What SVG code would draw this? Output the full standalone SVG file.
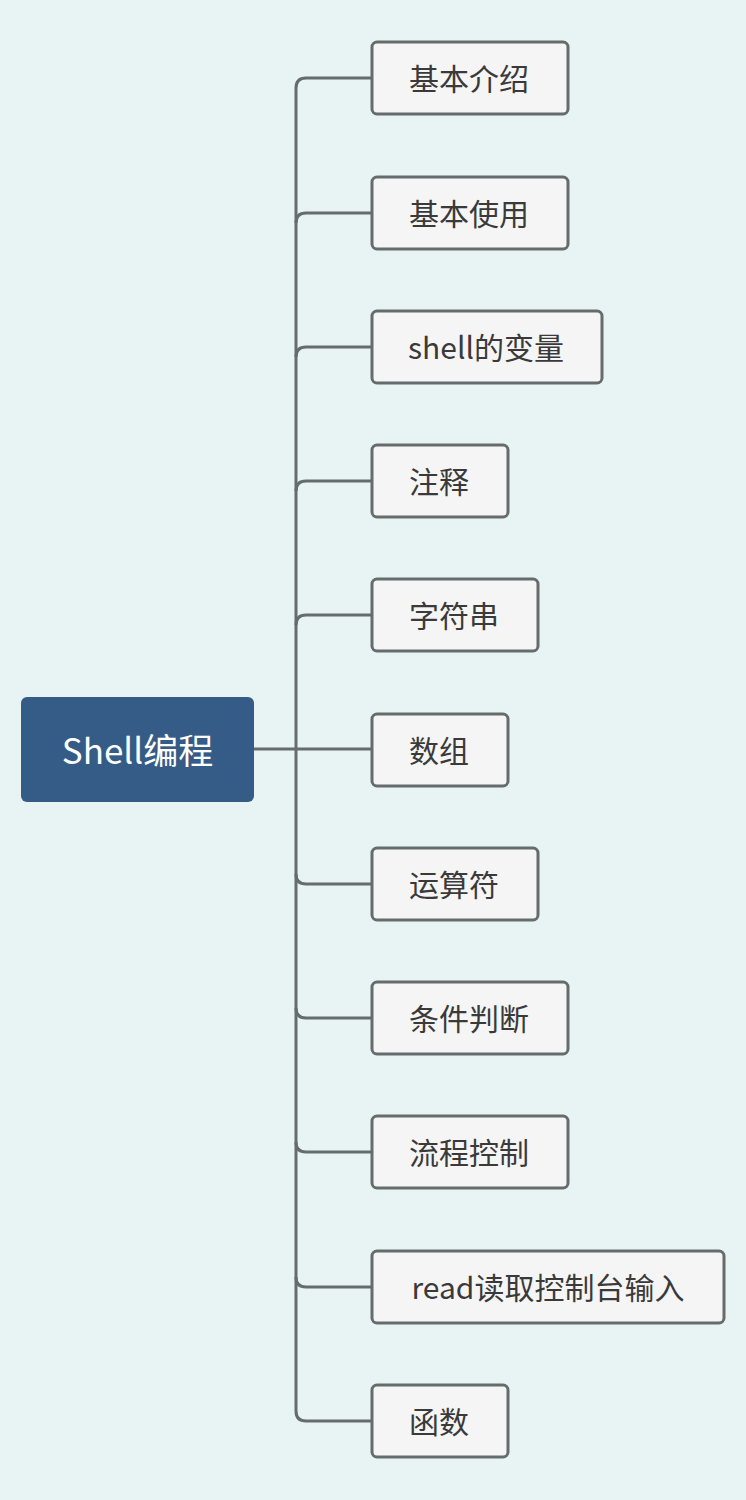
<svg xmlns="http://www.w3.org/2000/svg" width="746" height="1500" viewBox="0 0 746 1500">
<style>
.bg{fill:#e8f4f4}
.child rect{fill:#f5f5f5;stroke:#666c6c;stroke-width:3}
.child text{font-family:"Noto Sans CJK SC","Liberation Sans",sans-serif;font-size:30px;fill:#3a3a3a;text-anchor:middle;dominant-baseline:central}
.root rect{fill:#345c86}
.root text{font-family:"Noto Sans CJK SC","Liberation Sans",sans-serif;font-size:35px;fill:#ffffff;text-anchor:middle;dominant-baseline:central}
.conn path{fill:none;stroke:#666c6c;stroke-width:3}
</style>
<rect class="bg" x="0" y="0" width="746" height="1500"/>
<g class="conn" id="connectors">
<path d="M254 749 H372"/>
<path d="M372 78 H306 Q296 78 296 88 V1411 Q296 1421 306 1421 H372"/>
<path d="M372 213 H306 Q296 213 296 223"/>
<path d="M372 347 H306 Q296 347 296 357"/>
<path d="M372 481 H306 Q296 481 296 491"/>
<path d="M372 615 H306 Q296 615 296 625"/>
<path d="M372 884 H306 Q296 884 296 874"/>
<path d="M372 1018 H306 Q296 1018 296 1008"/>
<path d="M372 1152 H306 Q296 1152 296 1142"/>
<path d="M372 1287 H306 Q296 1287 296 1277"/>
</g>
<g class="root" id="root"><rect x="21" y="697" width="233" height="105" rx="6"/><text x="137.5" y="748">Shell编程</text></g>
<g class="child" id="n1"><rect x="372" y="42" width="196" height="72" rx="5"/><text x="469" y="77">基本介绍</text></g>
<g class="child" id="n2"><rect x="372" y="177" width="196" height="72" rx="5"/><text x="469" y="212">基本使用</text></g>
<g class="child" id="n3"><rect x="372" y="311" width="230" height="72" rx="5"/><text x="486" y="346">shell的变量</text></g>
<g class="child" id="n4"><rect x="372" y="445" width="136" height="72" rx="5"/><text x="439" y="480">注释</text></g>
<g class="child" id="n5"><rect x="372" y="579" width="166" height="72" rx="5"/><text x="454" y="614">字符串</text></g>
<g class="child" id="n6"><rect x="372" y="714" width="136" height="72" rx="5"/><text x="439" y="749">数组</text></g>
<g class="child" id="n7"><rect x="372" y="848" width="166" height="72" rx="5"/><text x="454" y="883">运算符</text></g>
<g class="child" id="n8"><rect x="372" y="982" width="196" height="72" rx="5"/><text x="469" y="1017">条件判断</text></g>
<g class="child" id="n9"><rect x="372" y="1116" width="196" height="72" rx="5"/><text x="469" y="1151">流程控制</text></g>
<g class="child" id="n10"><rect x="372" y="1251" width="352" height="72" rx="5"/><text x="548" y="1286">read读取控制台输入</text></g>
<g class="child" id="n11"><rect x="372" y="1385" width="136" height="72" rx="5"/><text x="439" y="1420">函数</text></g>
</svg>
